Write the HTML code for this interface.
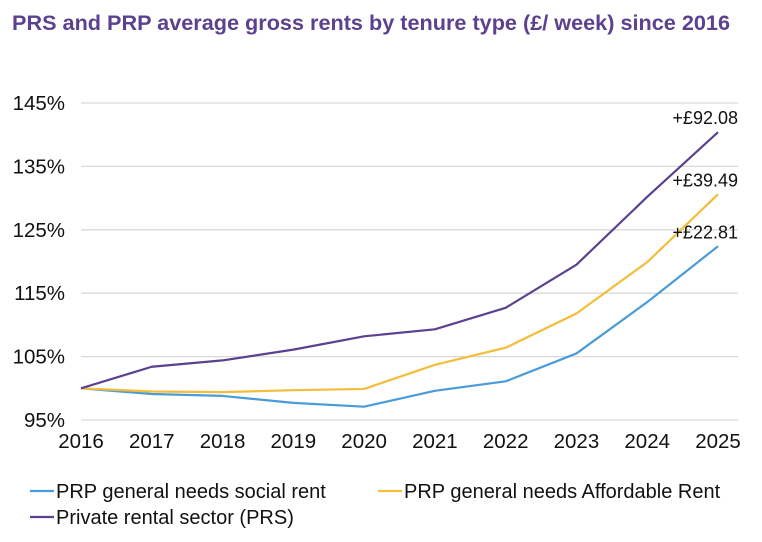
<!DOCTYPE html>
<html><head><meta charset="utf-8"><style>
body{margin:0;background:#fff;width:762px;height:537px;overflow:hidden;font-family:"Liberation Sans",Arial,sans-serif}
</style></head><body>
<svg id="chart" width="762" height="537" style="font-family:'Liberation Sans',Arial,sans-serif">
<text x="12" y="30" font-size="21.5" font-weight="bold" fill="#5b4190" textLength="718" lengthAdjust="spacingAndGlyphs">PRS and PRP average gross rents by tenure type (£/ week) since 2016</text>
<g id="grid"></g><g id="series"></g><g id="labels"></g>
<g font-size="20" fill="#111">
<line x1="30" y1="491" x2="54" y2="491" stroke="#4a9bd8" stroke-width="2.2"/>
<text x="56" y="498">PRP general needs social rent</text>
<line x1="378" y1="491" x2="402" y2="491" stroke="#f4bd3a" stroke-width="2.2"/>
<text x="404" y="498">PRP general needs Affordable Rent</text>
<line x1="30" y1="517" x2="54" y2="517" stroke="#5b4190" stroke-width="2.2"/>
<text x="56" y="524">Private rental sector (PRS)</text>
</g>
</svg>
<script>
const years=["2016","2017","2018","2019","2020","2021","2022","2023","2024","2025"];
const social=[100,99.1,98.8,97.7,97.1,99.6,101.1,105.5,113.6,122.4];
const affordable=[100,99.5,99.4,99.7,99.9,103.7,106.4,111.8,119.9,130.6];
const prs=[100,103.4,104.4,106.1,108.2,109.3,112.7,119.5,130.2,140.4];
const yTicks=[95,105,115,125,135,145];
const endLabels=["+£22.81","+£39.49","+£92.08"];
const NS="http://www.w3.org/2000/svg";
const x0=81,x1=718,yBot=420,yTop=103;
function xs(i){return x0+(x1-x0)*i/(years.length-1);}
function ys(v){return yBot-(v-95)/(145-95)*(yBot-yTop);}
function mk(tag,attrs,parent){const e=document.createElementNS(NS,tag);for(const k in attrs)e.setAttribute(k,attrs[k]);parent.appendChild(e);return e;}
const grid=document.getElementById('grid');
yTicks.forEach(t=>{
 const l=mk('line',{x1:x0,x2:x1+20,y1:ys(t),y2:ys(t),stroke:'#d9d9d9','stroke-width':1.3},grid);
 
 
 const tx=mk('text',{x:65,y:ys(t)+7,'text-anchor':'end','font-size':20.5,fill:'#111'},grid);
 tx.textContent=t+'%';
 
 
});
years.forEach((y,i)=>{
 const tx=mk('text',{x:xs(i),y:448,'text-anchor':'middle','font-size':20.5,fill:'#111'},grid);
 tx.textContent=y;
 
 
});
const ser=document.getElementById('series');
[[social,'#4a9bd8','social'],[affordable,'#f4bd3a','affordable'],[prs,'#5b4190','prs']].forEach(([d,c,n])=>{
 const p=mk('polyline',{points:d.map((v,i)=>xs(i)+','+ys(v)).join(' '),fill:'none',stroke:c,'stroke-width':2.2,'stroke-linejoin':'round'},ser);
 
 
});
const lab=document.getElementById('labels');
[[social,0],[affordable,1],[prs,2]].forEach(([d,k])=>{
 const last=d[d.length-1];
 const tx=mk('text',{x:738,y:ys(last)-8,'text-anchor':'end','font-size':18,fill:'#111'},lab);
 tx.textContent=endLabels[k];
 
 
});
</script>
</body></html>
